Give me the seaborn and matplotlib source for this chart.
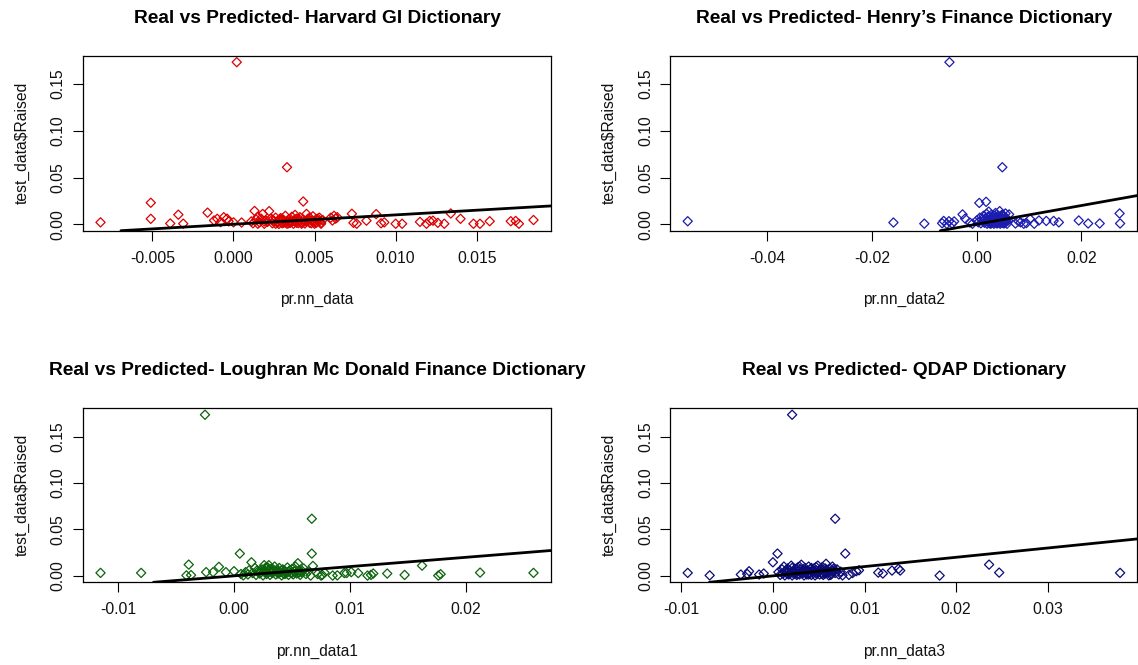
import matplotlib
matplotlib.use("Agg")
import matplotlib.pyplot as plt
import seaborn as sns

# ---------------- data ----------------
titles = [
    "Real vs Predicted- Harvard GI Dictionary",
    "Real vs Predicted- Henry\u2019s Finance Dictionary",
    "Real vs Predicted- Loughran Mc Donald Finance Dictionary",
    "Real vs Predicted- QDAP Dictionary",
]
x_labels = ["pr.nn_data", "pr.nn_data2", "pr.nn_data1", "pr.nn_data3"]
y_label = "test_data$Raised"
point_colors = ["#dd0000", "#1c1cb0", "#0b640b", "#0b0b78"]

harvard_x = [-0.0082, -0.0051, -0.0051, -0.0039, -0.0034, -0.0031, -0.0016, -0.0012, -0.0010, -0.0008,
             -0.0006, -0.0004, -0.0003, 0.0000, 0.0002, 0.0005,
             0.0011, 0.0012, 0.0013, 0.0014, 0.0015, 0.0016, 0.0017, 0.0018, 0.0019, 0.0020,
             0.0021, 0.0022, 0.0023, 0.0024, 0.0025, 0.0026, 0.0027, 0.0028, 0.0028, 0.0029,
             0.0030, 0.0030, 0.0031, 0.0032, 0.0032, 0.0033, 0.0033, 0.0034, 0.0035, 0.0035,
             0.0036, 0.0037, 0.0037, 0.0038, 0.0038, 0.0039, 0.0040, 0.0040, 0.0041, 0.0042,
             0.0043, 0.0043, 0.0044, 0.0045, 0.0045, 0.0046, 0.0047, 0.0048, 0.0049, 0.0050,
             0.0050, 0.0051, 0.0052, 0.0053, 0.0054, 0.0055,
             0.0027, 0.0029, 0.0031, 0.0033, 0.0034, 0.0036, 0.0038, 0.0039, 0.0041, 0.0042,
             0.0044, 0.0046, 0.0047, 0.0048, 0.0049, 0.0051, 0.0052, 0.0053, 0.0054, 0.0029,
             0.0026, 0.0024, 0.0019, 0.0015,
             0.0060, 0.0061, 0.0062, 0.0063, 0.0064, 0.0073, 0.0074, 0.0076, 0.0082, 0.0088,
             0.0091, 0.0093, 0.0100, 0.0104, 0.0115, 0.0119, 0.0121, 0.0123, 0.0126, 0.0130,
             0.0134, 0.0140, 0.0148, 0.0152, 0.0158, 0.0171, 0.0174, 0.0176, 0.0185]
harvard_y = [0.0020, 0.0230, 0.0058, 0.0008, 0.0102, 0.0006, 0.0124, 0.0040, 0.0058, 0.0022,
             0.0075, 0.0060, 0.0030, 0.0020, 0.1735, 0.0018,
             0.0030, 0.0010, 0.0142, 0.0050, 0.0080, 0.0020, 0.0060, 0.0110, 0.0005, 0.0040,
             0.0025, 0.0140, 0.0060, 0.0010, 0.0035, 0.0070, 0.0015, 0.0045, 0.0003, 0.0025,
             0.0060, 0.0010, 0.0040, 0.0090, 0.0020, 0.0610, 0.0005, 0.0050, 0.0030, 0.0015,
             0.0080, 0.0040, 0.0005, 0.0100, 0.0025, 0.0060, 0.0012, 0.0035, 0.0075, 0.0020,
             0.0243, 0.0050, 0.0008, 0.0030, 0.0110, 0.0060, 0.0015, 0.0040, 0.0085, 0.0025,
             0.0005, 0.0055, 0.0035, 0.0070, 0.0015, 0.0045,
             0.0030, 0.0050, 0.0015, 0.0035, 0.0010, 0.0025, 0.0050, 0.0015, 0.0045, 0.0005,
             0.0030, 0.0040, 0.0070, 0.0010, 0.0030, 0.0015, 0.0060, 0.0030, 0.0005, 0.0065,
             0.0005, 0.0050, 0.0030, 0.0005,
             0.0070, 0.0040, 0.0090, 0.0060, 0.0075, 0.0112, 0.0015, 0.0005, 0.0038, 0.0108,
             0.0010, 0.0020, 0.0005, 0.0005, 0.0025, 0.0005, 0.0035, 0.0038, 0.0015, 0.0005,
             0.0115, 0.0058, 0.0005, 0.0005, 0.0032, 0.0032, 0.0035, 0.0005, 0.0045]

henry_x = [-0.0552, -0.0159, -0.0100, -0.0066, -0.0063, -0.0057, -0.0053, -0.0052, -0.0047, -0.0043,
           -0.0027, -0.0022, -0.0013, -0.0008, 0.0005, 0.0018,
           0.0000, 0.0003, 0.0006, 0.0008, 0.0010, 0.0012, 0.0013, 0.0015, 0.0016, 0.0018,
           0.0019, 0.0020, 0.0021, 0.0022, 0.0023, 0.0024, 0.0025, 0.0026, 0.0027, 0.0028,
           0.0029, 0.0030, 0.0031, 0.0032, 0.0033, 0.0034, 0.0035, 0.0036, 0.0037, 0.0038,
           0.0039, 0.0040, 0.0041, 0.0042, 0.0043, 0.0044, 0.0045, 0.0046, 0.0047, 0.0048,
           0.0049, 0.0050, 0.0051, 0.0052, 0.0053, 0.0054, 0.0055, 0.0056, 0.0057, 0.0058,
           0.0060, 0.0062, 0.0049,
           0.0020, 0.0022, 0.0024, 0.0026, 0.0028, 0.0030, 0.0032, 0.0034, 0.0036, 0.0038,
           0.0040, 0.0042, 0.0044, 0.0046, 0.0048, 0.0050, 0.0052, 0.0054, 0.0056, 0.0033,
           0.0039, 0.0045, 0.0051, 0.0027,
           0.0074, 0.0080, 0.0084, 0.0090, 0.0095, 0.0102, 0.0110, 0.0119, 0.0133, 0.0147,
           0.0157, 0.0195, 0.0213, 0.0235, 0.0273, 0.0274]
henry_y = [0.0032, 0.0018, 0.0006, 0.0010, 0.0035, 0.0004, 0.0032, 0.1735, 0.0008, 0.0030,
           0.0105, 0.0060, 0.0018, 0.0005, 0.0228, 0.0240,
           0.0040, 0.0020, 0.0070, 0.0010, 0.0050, 0.0030, 0.0090, 0.0015, 0.0060, 0.0035,
           0.0110, 0.0005, 0.0075, 0.0025, 0.0135, 0.0045, 0.0010, 0.0060, 0.0030, 0.0100,
           0.0015, 0.0050, 0.0080, 0.0025, 0.0005, 0.0060, 0.0035, 0.0120, 0.0015, 0.0070,
           0.0040, 0.0010, 0.0090, 0.0025, 0.0055, 0.0140, 0.0005, 0.0075, 0.0035, 0.0100,
           0.0015, 0.0060, 0.0030, 0.0085, 0.0010, 0.0050, 0.0115, 0.0025, 0.0065, 0.0005,
           0.0040, 0.0105, 0.0610,
           0.0040, 0.0080, 0.0015, 0.0035, 0.0060, 0.0020, 0.0045, 0.0090, 0.0030, 0.0010,
           0.0060, 0.0080, 0.0040, 0.0020, 0.0050, 0.0100, 0.0035, 0.0070, 0.0045, 0.0070,
           0.0025, 0.0060, 0.0010, 0.0005,
           0.0008, 0.0030, 0.0020, 0.0005, 0.0012, 0.0055, 0.0005, 0.0040, 0.0035, 0.0035,
           0.0020, 0.0040, 0.0008, 0.0008, 0.0115, 0.0008]

lm_x = [-0.0115, -0.0080, -0.0039, -0.0041, -0.0037, -0.0025, -0.0024, -0.0018, -0.0013, -0.0007,
        0.0000, 0.0005, 0.0015,
        0.0006, 0.0008, 0.0010, 0.0012, 0.0013, 0.0016, 0.0018, 0.0019, 0.0021, 0.0022,
        0.0024, 0.0025, 0.0026, 0.0027, 0.0028, 0.0029, 0.0030, 0.0031, 0.0032, 0.0033,
        0.0034, 0.0035, 0.0036, 0.0037, 0.0038, 0.0039, 0.0040, 0.0041, 0.0042, 0.0043,
        0.0044, 0.0045, 0.0046, 0.0047, 0.0048, 0.0049, 0.0050, 0.0051, 0.0052, 0.0053,
        0.0054, 0.0055, 0.0056, 0.0057, 0.0058, 0.0060, 0.0062, 0.0064,
        0.0020, 0.0023, 0.0026, 0.0029, 0.0032, 0.0035, 0.0038, 0.0041, 0.0044, 0.0047,
        0.0050, 0.0053, 0.0056, 0.0059, 0.0030, 0.0027,
        0.0067, 0.0067, 0.0068, 0.0066,
        0.0072, 0.0075, 0.0076, 0.0078, 0.0085, 0.0089, 0.0095, 0.0097, 0.0101, 0.0107,
        0.0115, 0.0118, 0.0120, 0.0132, 0.0147, 0.0162, 0.0176, 0.0178, 0.0212, 0.0258]
lm_y = [0.0032, 0.0032, 0.0121, 0.0005, 0.0008, 0.1735, 0.0040, 0.0040, 0.0097, 0.0040,
        0.0050, 0.0240, 0.0146,
        0.0020, 0.0005, 0.0040, 0.0015, 0.0060, 0.0030, 0.0085, 0.0010, 0.0050, 0.0025,
        0.0070, 0.0005, 0.0115, 0.0040, 0.0020, 0.0090, 0.0055, 0.0010, 0.0075, 0.0030,
        0.0045, 0.0100, 0.0015, 0.0060, 0.0025, 0.0085, 0.0040, 0.0005, 0.0070, 0.0020,
        0.0050, 0.0030, 0.0090, 0.0010, 0.0060, 0.0035, 0.0075, 0.0015, 0.0045, 0.0100,
        0.0025, 0.0136, 0.0060, 0.0010, 0.0040, 0.0080, 0.0020, 0.0050,
        0.0060, 0.0035, 0.0050, 0.0030, 0.0045, 0.0060, 0.0040, 0.0055, 0.0020, 0.0045,
        0.0030, 0.0060, 0.0035, 0.0050, 0.0115, 0.0085,
        0.0615, 0.0240, 0.0107, 0.0003,
        0.0020, 0.0003, 0.0010, 0.0035, 0.0003, 0.0005, 0.0030, 0.0030, 0.0040, 0.0030,
        0.0003, 0.0010, 0.0025, 0.0025, 0.0010, 0.0110, 0.0003, 0.0018, 0.0035, 0.0032]

qdap_x = [-0.0093, -0.0069, -0.0035, -0.0028, -0.0026, -0.0015, -0.0010, 0.0000, 0.0005, 0.0021,
          0.0006, 0.0008, 0.0010, 0.0011, 0.0012, 0.0013, 0.0014, 0.0015, 0.0016, 0.0017,
          0.0018, 0.0019, 0.0020, 0.0021, 0.0022, 0.0023, 0.0024, 0.0025, 0.0026, 0.0027,
          0.0028, 0.0029, 0.0030, 0.0031, 0.0032, 0.0033, 0.0034, 0.0035, 0.0036, 0.0037,
          0.0038, 0.0039, 0.0040, 0.0041, 0.0042, 0.0043, 0.0044, 0.0045, 0.0046, 0.0047,
          0.0048, 0.0049, 0.0050, 0.0051, 0.0052, 0.0053, 0.0054, 0.0055, 0.0056, 0.0057,
          0.0058, 0.0059, 0.0060, 0.0061, 0.0062, 0.0063, 0.0064, 0.0065, 0.0066, 0.0068,
          0.0068, 0.0070, 0.0072, 0.0074, 0.0076,
          0.0015, 0.0018, 0.0021, 0.0024, 0.0027, 0.0030, 0.0033, 0.0036, 0.0039, 0.0042,
          0.0045, 0.0048, 0.0051, 0.0054, 0.0057, 0.0060, 0.0063, 0.0066, 0.0029, 0.0047,
          0.0079, 0.0083, 0.0087, 0.0091, 0.0094, 0.0115, 0.0120, 0.0130, 0.0137, 0.0139,
          0.0182, 0.0236, 0.0247, 0.0379]
qdap_y = [0.0032, 0.0005, 0.0014, 0.0020, 0.0050, 0.0014, 0.0025, 0.0146, 0.0240, 0.1735,
          0.0040, 0.0010, 0.0070, 0.0025, 0.0100, 0.0005, 0.0050, 0.0030, 0.0080, 0.0015,
          0.0060, 0.0035, 0.0110, 0.0005, 0.0045, 0.0020, 0.0075, 0.0030, 0.0010, 0.0090,
          0.0055, 0.0015, 0.0040, 0.0120, 0.0025, 0.0065, 0.0005, 0.0085, 0.0035, 0.0015,
          0.0055, 0.0100, 0.0025, 0.0070, 0.0010, 0.0045, 0.0030, 0.0080, 0.0005, 0.0060,
          0.0020, 0.0110, 0.0040, 0.0015, 0.0070, 0.0030, 0.0095, 0.0010, 0.0050, 0.0025,
          0.0130, 0.0065, 0.0035, 0.0005, 0.0080, 0.0045, 0.0020, 0.0100, 0.0055, 0.0030,
          0.0615, 0.0070, 0.0015, 0.0045, 0.0005,
          0.0060, 0.0020, 0.0085, 0.0040, 0.0020, 0.0070, 0.0035, 0.0055, 0.0015, 0.0085,
          0.0050, 0.0035, 0.0060, 0.0020, 0.0080, 0.0055, 0.0010, 0.0075, 0.0100, 0.0095,
          0.0240, 0.0010, 0.0030, 0.0050, 0.0060, 0.0035, 0.0025, 0.0057, 0.0075, 0.0057,
          0.0003, 0.0121, 0.0035, 0.0032]

harvard_ticks = [-0.005, 0.000, 0.005, 0.010, 0.015]
harvard_ticklabels = ["-0.005", "0.000", "0.005", "0.010", "0.015"]
henry_ticks = [-0.04, -0.02, 0.00, 0.02]
henry_ticklabels = ["-0.04", "-0.02", "0.00", "0.02"]
lm_ticks = [-0.01, 0.00, 0.01, 0.02]
lm_ticklabels = ["-0.01", "0.00", "0.01", "0.02"]
qdap_ticks = [-0.01, 0.00, 0.01, 0.02, 0.03]
qdap_ticklabels = ["-0.01", "0.00", "0.01", "0.02", "0.03"]
y_ticks = [0.00, 0.05, 0.10, 0.15]
y_ticklabels = ["0.00", "0.05", "0.10", "0.15"]

line_intercept = 0.0
line_slope = 1.0

# ---------------- figure ----------------
sns.set_theme(style="white")
plt.rcParams['font.family'] = ['Liberation Sans', 'DejaVu Sans']

W, H = 1138, 665
fig = plt.figure(figsize=(W / 100, H / 100), dpi=100)
fig.patch.set_facecolor("white")

# panel boxes in pixels: left, top, right, bottom
boxes = [(83.2, 55.7, 550.8, 230.7), (670.4, 55.7, 1137.4, 230.7),
         (83.2, 408.3, 550.8, 582.3), (670.4, 408.3, 1137.4, 582.3)]

panels = [
    (harvard_x, harvard_y, harvard_ticks, harvard_ticklabels),
    (henry_x, henry_y, henry_ticks, henry_ticklabels),
    (lm_x, lm_y, lm_ticks, lm_ticklabels),
    (qdap_x, qdap_y, qdap_ticks, qdap_ticklabels),
]

for i, (xs, ys, xt, xtl) in enumerate(panels):
    l, t, r, b = boxes[i]
    ax = fig.add_axes([l / W, 1 - b / H, (r - l) / W, (b - t) / H])
    ax.set_facecolor("white")
    sns.scatterplot(x=xs, y=ys, ax=ax, marker="D", s=22, facecolors="none",
                    edgecolor=point_colors[i], linewidth=0.9, zorder=2)
    ax.margins(x=0.04, y=0.04)
    ax.axline((0.0, line_intercept), slope=line_slope, color="black", lw=2.0, zorder=3)
    ax.set_xticks(xt)
    ax.set_xticklabels(xtl)
    ax.set_yticks(y_ticks)
    ax.set_yticklabels(y_ticklabels)
    ax.set_xlabel("")
    ax.set_ylabel("")
    ax.tick_params(axis="both", which="both", bottom=True, left=True, top=False, right=False,
                   direction="out", length=7, width=0.8, color="black", labelcolor="#111111",
                   labelsize=11.3)
    ax.tick_params(axis="x", pad=7.5)
    ax.tick_params(axis="y", pad=5.5, labelrotation=90)
    for lab in ax.get_yticklabels():
        lab.set_verticalalignment("center")
    for sp in ax.spines.values():
        sp.set_visible(True)
        sp.set_color("black")
        sp.set_linewidth(0.9)
    ax.grid(False)
    hpx = b - t
    wpx = r - l
    ax.text(0.5, 1 + 37.5 / hpx, titles[i], transform=ax.transAxes, ha="center", va="center",
            fontsize=13.8, fontweight="bold", color="black")
    ax.text(0.5, -69 / hpx, x_labels[i], transform=ax.transAxes, ha="center", va="center",
            fontsize=11.2, color="#111111")
    ax.text(-61 / wpx, 0.5, y_label, transform=ax.transAxes, ha="center", va="center",
            rotation=90, fontsize=11.3, color="#111111")

fig.savefig("out.png", dpi=100, facecolor="white")
